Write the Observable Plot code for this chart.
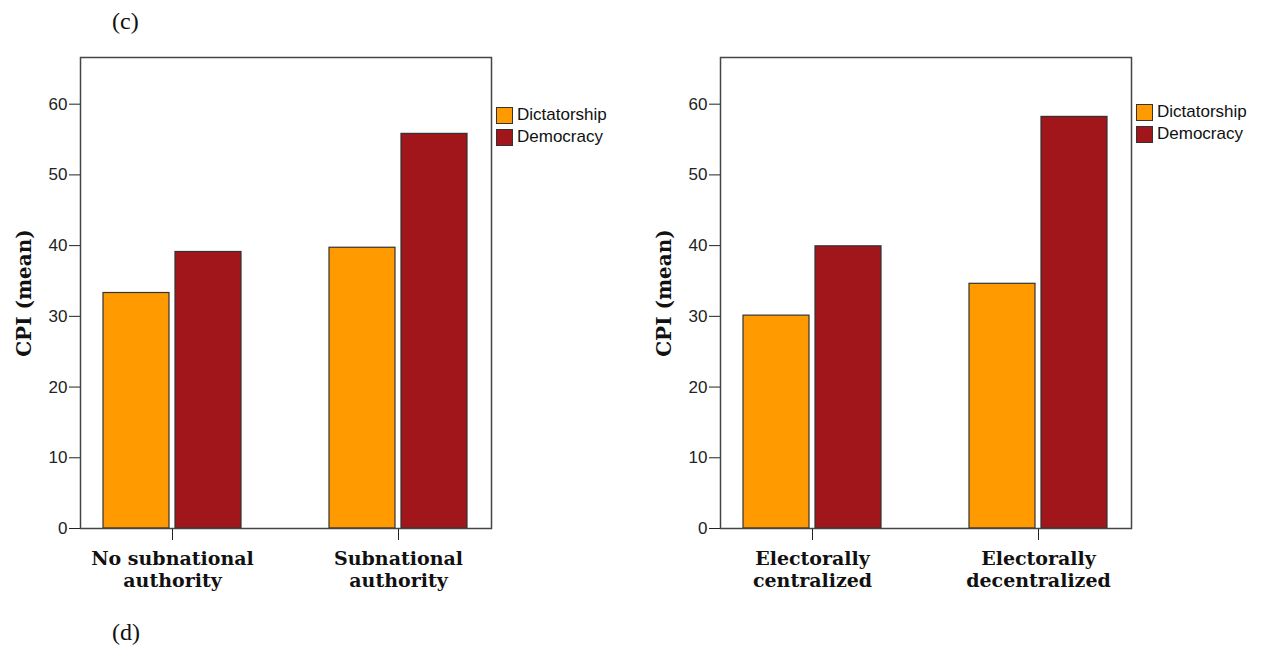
<!DOCTYPE html>
<html>
<head>
<meta charset="utf-8">
<script src="https://cdn.jsdelivr.net/npm/d3@7"></script>
<script src="https://cdn.jsdelivr.net/npm/@observablehq/plot@0.6"></script>
<style>
  html, body { margin: 0; padding: 0; background: #fff; }
  #page { position: relative; width: 1262px; height: 648px; overflow: hidden; background: #fff; }
  .panel-tag { position: absolute; font-family: "Liberation Serif", "DejaVu Serif", serif; font-size: 24px; line-height: 1; color: #111; }
  .chart { position: absolute; top: 40px; }
  .legend { position: absolute; font-family: "Liberation Sans", Arial, sans-serif; font-size: 17px; color: #111; }
  .legend .row { display: flex; align-items: center; height: 22px; }
  .legend .sw { width: 15px; height: 15px; border: 1px solid #333; margin-right: 4px; box-sizing: content-box; }
</style>
</head>
<body>
<div id="page"></div>
<script>
// ---- data ----
const seriesNames = ["Dictatorship", "Democracy"];
const seriesColors = ["#FF9A00", "#A0161B"];
const yTicks = [0, 10, 20, 30, 40, 50, 60];
const yLabel = "CPI (mean)";

const panelCCategories = ["No subnational\nauthority", "Subnational\nauthority"];
const panelCDictatorship = [33.3, 39.7];
const panelCDemocracy = [39.1, 55.8];

const panelDCategories = ["Electorally\ncentralized", "Electorally\ndecentralized"];
const panelDDictatorship = [30.1, 34.6];
const panelDDemocracy = [39.9, 58.2];

// ---- build ----
const page = document.getElementById("page");

function rows(categories, values, series) {
  return categories.map((c, i) => ({category: c, series, value: values[i]}));
}

function makeChart(categories, dict, dem) {
  const dictRows = rows(categories, dict, seriesNames[0]);
  const demRows = rows(categories, dem, seriesNames[1]);
  return Plot.plot({
    width: 640,
    height: 560,
    marginTop: 17,
    marginBottom: 72,
    marginLeft: 80,
    marginRight: 149,
    style: {fontFamily: "'Liberation Sans', Arial, sans-serif", fontSize: "17px", color: "#222", background: "transparent", overflow: "visible"},
    x: {domain: categories, paddingInner: 0.388, paddingOuter: 0.103, tickSize: 12, tickFormat: () => "", label: null},
    y: {domain: [0, 66.6], ticks: yTicks, tickSize: 11, tickPadding: 2, label: null},
    marks: [
      Plot.barY(dictRows, {x: "category", y: "value", fill: seriesColors[0], stroke: "#333", strokeWidth: 1.2, insetRight: 72}),
      Plot.barY(demRows, {x: "category", y: "value", fill: seriesColors[1], stroke: "#333", strokeWidth: 1.2, insetLeft: 72}),
      Plot.frame({stroke: "#444", strokeWidth: 1.5}),
      Plot.text(categories, {x: d => d, text: d => d, frameAnchor: "bottom", lineAnchor: "top", dy: 20,
        fontFamily: "'DejaVu Serif', serif", fontWeight: "bold", fontSize: 19, lineHeight: 1.2, fill: "#111"}),
      Plot.text([yLabel], {text: d => d, frameAnchor: "left", dx: -56, rotate: -90, textAnchor: "middle",
        fontFamily: "'DejaVu Serif', serif", fontWeight: "bold", fontSize: 20, fill: "#111"})
    ]
  });
}

function addLegend(left, top) {
  const lg = document.createElement("div");
  lg.className = "legend";
  lg.style.left = left + "px";
  lg.style.top = top + "px";
  seriesNames.forEach((name, i) => {
    const row = document.createElement("div");
    row.className = "row";
    const sw = document.createElement("div");
    sw.className = "sw";
    sw.style.background = seriesColors[i];
    const tx = document.createElement("span");
    tx.textContent = name;
    row.appendChild(sw);
    row.appendChild(tx);
    lg.appendChild(row);
  });
  page.appendChild(lg);
}

const tagC = document.createElement("div");
tagC.className = "panel-tag";
tagC.style.left = "112px";
tagC.style.top = "9px";
tagC.textContent = "(c)";
page.appendChild(tagC);

const tagD = document.createElement("div");
tagD.className = "panel-tag";
tagD.style.left = "112px";
tagD.style.top = "620px";
tagD.textContent = "(d)";
page.appendChild(tagD);

const c1 = makeChart(panelCCategories, panelCDictatorship, panelCDemocracy);
c1.classList.add("chart");
c1.style.left = "0px";
page.appendChild(c1);

const c2 = makeChart(panelDCategories, panelDDictatorship, panelDDemocracy);
c2.classList.add("chart");
c2.style.left = "640px";
page.appendChild(c2);

addLegend(496, 104);
addLegend(1136, 101);
</script>
</body>
</html>
